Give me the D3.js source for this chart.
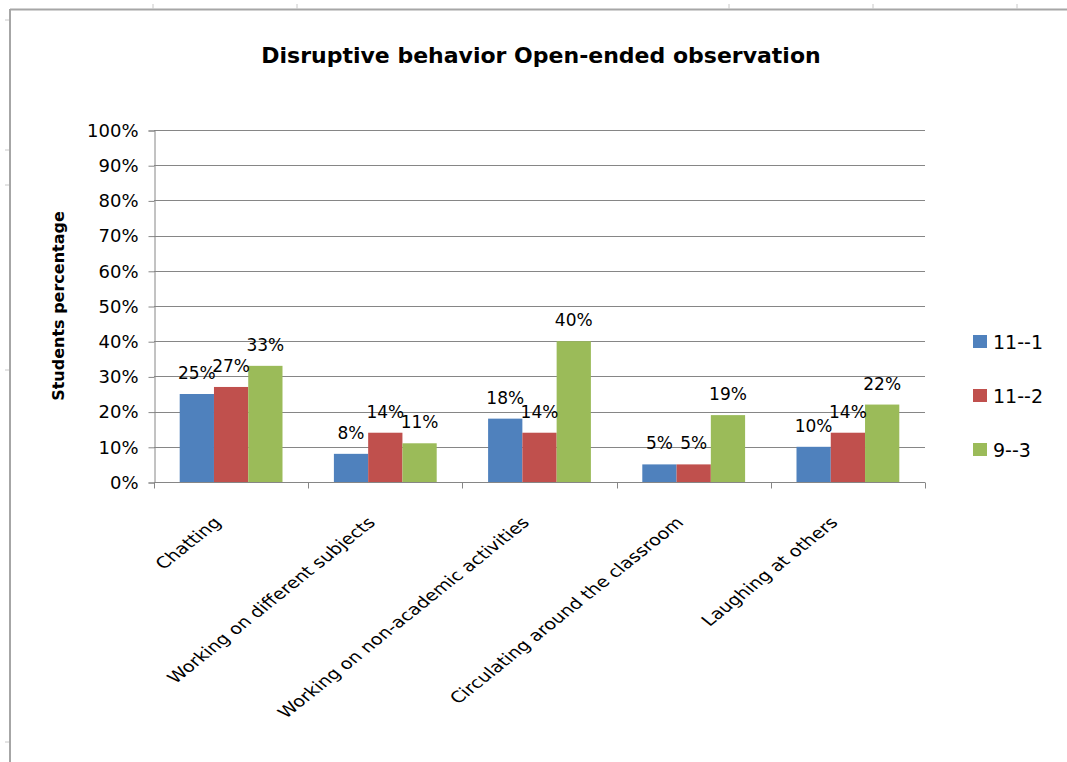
<!DOCTYPE html>
<html>
<head>
<meta charset="utf-8">
<script src="https://cdn.jsdelivr.net/npm/d3@7"></script>
<style>
  html, body { margin: 0; padding: 0; background: #fff; }
  svg { display: block; }
  text { font-family: "DejaVu Sans", Verdana, sans-serif; fill: #000; }
</style>
</head>
<body>
<svg id="chart" width="1067" height="762"></svg>
<script>
const title = "Disruptive behavior Open-ended observation";
const yAxisTitle = "Students percentage";
const categories = [
  "Chatting",
  "Working on different subjects",
  "Working on non-academic activities",
  "Circulating around the classroom",
  "Laughing at others"
];
const seriesNames = ["11--1", "11--2", "9--3"];
const values11_1 = [0.25, 0.08, 0.18, 0.05, 0.10];
const values11_2 = [0.27, 0.14, 0.14, 0.05, 0.14];
const values9_3  = [0.33, 0.11, 0.40, 0.19, 0.22];
const seriesColors = ["#4F81BD", "#C0504D", "#9BBB59"];
const yTicks = [0, 0.1, 0.2, 0.3, 0.4, 0.5, 0.6, 0.7, 0.8, 0.9, 1.0];

const series = [values11_1, values11_2, values9_3];

const svg = d3.select("#chart");
const W = 1067, H = 762;
const plot = { left: 154, right: 925, top: 130, bottom: 482 };

// spreadsheet background remnants
const sheet = svg.append("g");
sheet.append("line").attr("x1", 10).attr("x2", W).attr("y1", 9.5).attr("y2", 9.5)
  .attr("stroke", "#a6a6a6").attr("stroke-width", 2);
sheet.append("line").attr("x1", 10).attr("x2", 10).attr("y1", 9).attr("y2", H)
  .attr("stroke", "#a6a6a6").attr("stroke-width", 2);
[153, 297, 729, 873, 1017].forEach(x => {
  sheet.append("line").attr("x1", x).attr("x2", x).attr("y1", 4).attr("y2", 9)
    .attr("stroke", "#c8c8c8").attr("stroke-width", 1);
});
[20, 150, 185, 370, 742].forEach(y => {
  sheet.append("line").attr("x1", 5).attr("x2", 9).attr("y1", y).attr("y2", y)
    .attr("stroke", "#c8c8c8").attr("stroke-width", 1);
});

const x0 = d3.scaleBand().domain(categories).range([plot.left, plot.right])
  .paddingInner(0).paddingOuter(0);
const y = d3.scaleLinear().domain([0, 1]).range([plot.bottom, plot.top]);

// Excel gap width 150% => gap = 1.5 * bar width
const barW = x0.bandwidth() / (series.length + 1.5);
const groupOffset = barW * 0.75;

// gridlines
svg.append("g").selectAll("line").data(yTicks.slice(1)).join("line")
  .attr("x1", plot.left).attr("x2", plot.right)
  .attr("y1", d => Math.round(y(d)) + 0.5).attr("y2", d => Math.round(y(d)) + 0.5)
  .attr("stroke", "#868686").attr("stroke-width", 1);

// bars
series.forEach((vals, si) => {
  svg.append("g").selectAll("rect").data(categories).join("rect")
    .attr("x", (c) => x0(c) + groupOffset + si * barW)
    .attr("y", (c, i) => y(vals[i]))
    .attr("width", barW)
    .attr("height", (c, i) => y(0) - y(vals[i]))
    .attr("fill", seriesColors[si]);
});

// y axis
const yAxis = d3.axisLeft(y).tickValues(yTicks).tickFormat(d3.format(".0%"))
  .tickSize(6).tickPadding(10);
const gy = svg.append("g").attr("transform", `translate(${plot.left + 0.5},0.5)`).call(yAxis);
gy.select(".domain").attr("stroke", "#868686");
gy.selectAll(".tick line").attr("stroke", "#868686");
gy.selectAll(".tick text").attr("font-size", 18).attr("font-family", "DejaVu Sans");

// x axis
const gx = svg.append("g").attr("transform", `translate(0,${plot.bottom + 0.5})`);
gx.append("line").attr("x1", plot.left).attr("x2", plot.right).attr("stroke", "#868686");
const tickXs = categories.map(c => x0(c)).concat([plot.right]);
gx.selectAll("line.tk").data(tickXs).join("line").attr("class", "tk")
  .attr("x1", d => Math.round(d) + 0.5).attr("x2", d => Math.round(d) + 0.5)
  .attr("y1", 0).attr("y2", 6).attr("stroke", "#868686");
// reference image is horizontally stretched, so the 45deg labels appear shallower
gx.selectAll("text").data(categories).join("text")
  .attr("text-anchor", "end")
  .attr("font-size", 15.5)
  .attr("transform", c => `translate(${x0(c) + x0.bandwidth() / 2 - 9},${523 - plot.bottom}) scale(1.25,1) rotate(-45)`)
  .text(c => c);

// data labels
const fmt = d3.format(".0%");
series.forEach((vals, si) => {
  svg.append("g").selectAll("text").data(categories).join("text")
    .attr("x", c => x0(c) + groupOffset + si * barW + barW / 2)
    .attr("y", (c, i) => y(vals[i]) - 15)
    .attr("text-anchor", "middle")
    .attr("font-size", 17)
    .text((c, i) => fmt(vals[i]));
});

// title
svg.append("text").attr("x", 541).attr("y", 63).attr("text-anchor", "middle")
  .attr("font-size", 22).attr("font-weight", "bold").text(title);

// y axis title
svg.append("text").attr("transform", "translate(64,306) rotate(-90)")
  .attr("text-anchor", "middle").attr("font-size", 16).attr("font-weight", "bold")
  .text(yAxisTitle);

// legend
const legendY = [342, 396, 450];
const lg = svg.append("g").selectAll("g").data(seriesNames).join("g")
  .attr("transform", (d, i) => `translate(973,${legendY[i]})`);
lg.append("rect").attr("x", 0).attr("y", -7).attr("width", 14).attr("height", 13)
  .attr("fill", (d, i) => seriesColors[i]);
lg.append("text").attr("x", 20).attr("y", 0).attr("dy", "0.35em")
  .attr("font-size", 19).text(d => d);
</script>
</body>
</html>
